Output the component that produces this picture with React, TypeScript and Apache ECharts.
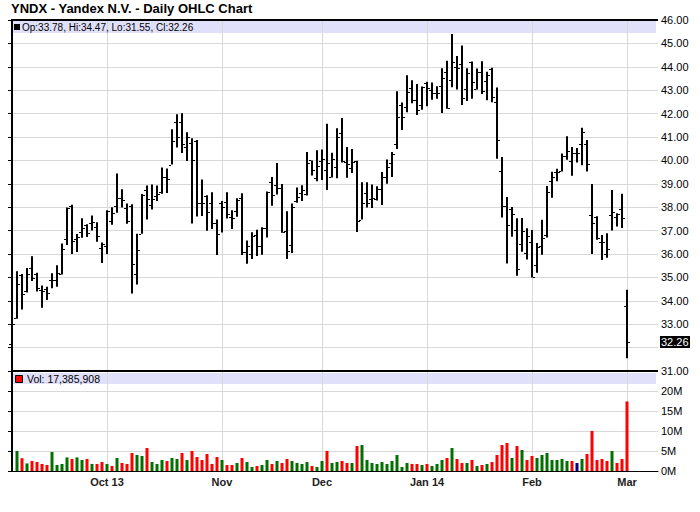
import React, { useEffect, useRef } from "react";
import * as echarts from "echarts";

const opens = [32.17,33.28,35.1,34.4,35.4,35.15,34.45,34.5,34.88,34.87,35.15,36.66,38.05,36.66,36.96,37.25,37.33,37.15,36.25,36.35,37.43,38.04,38.38,37.96,38.04,35.14,36.87,38.73,38.11,38.47,38.63,39.27,39.82,41.65,41.66,40.58,40.76,40.85,38.2,38.5,38.2,37.34,38.2,38.24,37.59,37.83,38.38,36.1,36.02,36.83,36.34,37.1,39.06,38.97,38.8,36.99,36.4,38.27,38.59,38.56,40.0,39.23,39.99,39.59,39.29,39.7,41.17,39.93,39.66,39.97,37.47,38.59,38.37,38.37,38.79,39.3,39.89,40.69,42.36,42.27,43.11,42.56,42.37,43.29,42.99,42.9,43.16,43.77,43.43,44.0,44.14,43.07,44.2,43.03,43.76,43.4,43.89,42.51,39.54,38.04,37.93,37.01,36.41,36.03,36.53,35.51,36.33,36.83,39.1,39.49,39.53,40.2,39.97,40.31,40.7,40.7,37.66,37.6,36.5,35.99,37.66,37.59,37.91,33.78];
const highs = [33.57,35.26,35.15,35.4,35.9,35.2,34.65,34.6,35.18,35.52,36.45,37.99,38.1,36.86,37.53,37.27,37.64,37.36,36.49,37.87,38.0,39.44,38.77,38.16,38.13,36.87,38.56,38.93,38.97,38.93,39.7,39.65,41.33,41.97,42.02,41.2,40.95,40.87,39.18,38.51,38.64,37.47,38.27,38.64,37.87,38.38,38.6,36.58,36.93,37.04,37.14,38.67,39.29,39.89,38.99,37.83,38.16,38.84,38.94,40.36,40.0,40.43,40.47,41.57,40.33,41.37,41.81,40.57,40.49,39.99,39.07,39.07,38.97,38.9,39.5,40.04,40.36,42.96,42.47,43.64,43.43,43.26,43.16,43.36,43.33,43.17,43.94,44.26,45.4,44.46,44.91,43.94,44.23,43.93,44.24,43.79,43.96,43.12,40.14,38.44,38.01,37.53,37.54,37.1,37.03,36.47,37.46,38.91,39.51,39.64,40.3,41.03,40.57,40.53,41.4,40.87,38.99,37.61,36.81,36.89,38.74,37.74,38.57,34.47];
const lows = [31.79,33.23,33.63,34.35,34.85,34.4,33.7,34.03,34.54,34.6,35.12,36.38,36.0,36.09,36.69,36.73,37.0,36.52,35.62,36.0,37.25,37.76,37.99,37.29,34.31,34.7,36.87,37.47,37.9,38.26,38.58,38.61,39.82,40.55,40.32,39.97,37.3,37.6,37.62,36.99,37.07,35.96,36.92,37.52,37.07,37.59,35.96,35.58,35.79,35.91,35.97,36.7,38.06,38.54,36.91,35.79,36.04,38.19,38.27,38.5,39.36,39.11,39.16,38.74,39.27,39.24,39.91,39.26,39.46,36.94,37.47,37.99,37.97,38.29,38.09,39.0,39.29,40.49,41.3,42.06,42.44,41.94,42.16,42.31,42.59,42.63,42.03,42.21,43.13,43.03,42.37,42.54,42.63,43.03,42.84,42.57,42.49,40.07,37.56,35.59,36.74,35.07,36.1,35.77,35.0,35.2,35.97,36.7,38.4,39.11,39.53,40.03,39.34,39.91,39.79,39.53,36.0,36.61,35.74,35.84,37.0,37.17,37.11,31.55];
const closes = [32.99,34.71,34.3,35.15,34.99,34.55,34.4,34.35,34.9,35.2,36.23,37.96,36.57,36.72,37.1,36.9,37.36,36.79,36.42,37.85,37.74,38.4,38.3,37.43,35.56,36.15,38.53,38.33,38.37,38.57,39.31,39.22,40.81,41.02,40.69,40.99,40.0,38.2,38.16,37.79,37.32,36.87,38.01,37.73,37.54,38.3,36.1,36.36,36.78,36.34,37.13,38.67,38.54,38.81,36.96,36.14,37.99,38.44,38.73,39.87,39.61,39.74,40.07,39.87,40.07,40.99,39.97,39.84,39.94,37.43,38.16,38.2,38.41,38.77,39.3,39.7,40.29,41.84,41.87,42.94,42.57,42.17,43.13,43.09,42.9,42.87,43.51,42.23,44.19,43.97,42.66,43.74,43.33,43.76,42.96,43.63,42.69,40.86,38.04,37.23,37.7,35.34,36.97,36.76,35.03,36.3,36.67,38.64,39.29,39.49,40.2,40.4,40.31,40.31,41.21,39.86,37.31,36.67,36.5,36.21,37.81,37.71,37.53,32.26];
// volume in millions (first bar has no visible volume)
const volumes = [null,5.0,3.2,1.9,2.5,2.25,1.75,1.5,4.75,1.5,1.75,3.4,3.0,3.4,2.75,3.0,1.75,1.75,2.25,1.75,1.25,3.25,2.0,1.75,4.5,4.0,3.75,5.75,2.25,1.75,2.75,2.5,3.25,3.0,4.5,2.75,5.0,3.5,2.75,4.25,1.75,3.5,2.75,1.5,1.5,2.0,3.25,2.25,1.0,1.25,1.5,2.75,1.75,2.5,2.0,3.0,2.5,2.0,1.75,2.25,1.25,1.0,2.5,5.0,2.0,2.25,2.5,2.0,2.0,6.25,6.5,2.75,2.0,1.75,2.25,1.75,2.5,4.0,1.0,2.0,1.75,1.75,1.5,1.75,1.25,1.75,2.75,3.25,5.75,3.0,2.0,2.0,2.75,1.25,1.5,1.75,2.25,4.0,6.5,7.0,3.25,6.25,5.25,2.75,3.75,3.25,4.0,4.5,2.75,2.75,3.0,2.5,2.5,2.0,3.0,4.25,10.0,2.75,3.0,2.5,5.0,2.0,3.0,17.39];
// u = up (green), d = down (red), n = unchanged (navy)
const volDirs = [
  "n","u","d","u","d","d","d","d","u","u",
  "u","u","d","u","u","d","u","d","d","u",
  "d","u","d","d","d","u","u","d","u","u",
  "u","d","u","u","d","u","d","d","d","d",
  "d","d","u","d","d","u","d","u","u","d",
  "u","u","d","u","d","d","u","u","u","u",
  "d","u","u","d","u","u","d","d","u","d",
  "u","u","u","u","u","u","u","u","u","u",
  "d","d","u","d","u","u","u","d","u","d",
  "d","u","d","u","d","u","d","d","d","d",
  "u","d","u","d","d","u","u","u","u","u",
  "u","u","d","n","u","d","d","d","d","d",
  "u","d","d","d",
];
const monthIdx = [19, 42, 62, 83, 104, 123];
const monthLabels = ["Oct 13", "Nov", "Dec", "Jan 14", "Feb", "Mar"];
const priceTicks = { min: 31, max: 46, step: 1 };
const volTicks = { min: 0, max: 25, step: 5 };
const title = "YNDX - Yandex N.V. - Daily OHLC Chart";
const lastQuote = "Op:33.78, Hi:34.47, Lo:31.55, Cl:32.26";
const lastVolume = "Vol: 17,385,908";

const FONT = '"Liberation Sans", Arial, sans-serif';
const GRID_L = 11;
const GRID_W = 647;
const P_TOP = 20;
const P_H = 351;
const V_TOP = 371;
const V_H = 100;

export default function App() {
  const ref = useRef<HTMLDivElement>(null);
  useEffect(() => {
    if (!ref.current) return;
    const chart = echarts.init(ref.current, null, { renderer: "svg" });
    const lastClose = closes[closes.length - 1];
    const ohlc = opens.map((o, i) => [i, o, highs[i], lows[i], closes[i]]);
    const vol = volumes.map((v, i) => [i, v, volDirs[i]]);
    const dirColor: Record<string, string> = { u: "#007000", d: "#ff0000", n: "#000080" };
    const xCommon = {
      type: "value" as const,
      min: -0.2,
      max: 129.2,
      splitLine: { show: false },
      axisTick: { show: false },
    };
    chart.setOption({
      animation: false,
      backgroundColor: "#ffffff",
      grid: [
        { left: GRID_L, top: P_TOP, width: GRID_W, height: P_H },
        { left: GRID_L, top: V_TOP, width: GRID_W, height: V_H },
      ],
      xAxis: [
        { ...xCommon, gridIndex: 0, axisLine: { show: false }, axisLabel: { show: false } },
        {
          ...xCommon,
          gridIndex: 1,
          axisLine: { show: true, lineStyle: { color: "#000", width: 1 } },
          axisLabel: {
            show: true,
            customValues: monthIdx,
            formatter: (v: number) => monthLabels[monthIdx.indexOf(Math.round(v))] ?? "",
            fontFamily: FONT,
            fontWeight: "bold",
            fontSize: 11,
            color: "#222",
            margin: 5,
          },
        },
      ],
      yAxis: [
        {
          type: "value",
          gridIndex: 0,
          position: "right",
          min: priceTicks.min,
          max: priceTicks.max,
          interval: priceTicks.step,
          axisLine: { show: true, lineStyle: { color: "#000" } },
          axisTick: { show: true, inside: true, length: 4, lineStyle: { color: "#000" } },
          axisLabel: {
            formatter: (v: number) => (Math.abs(v - lastClose) < 0.5 ? "" : v.toFixed(2)),
            fontFamily: FONT,
            fontSize: 11,
            color: "#000",
            margin: 3,
          },
          splitLine: { show: true, lineStyle: { color: "#d8d8d8" } },
        },
        {
          type: "value",
          gridIndex: 1,
          position: "right",
          min: volTicks.min,
          max: volTicks.max,
          interval: volTicks.step,
          axisLine: { show: true, lineStyle: { color: "#000" } },
          axisTick: { show: true, inside: true, length: 4, lineStyle: { color: "#000" } },
          axisLabel: {
            formatter: (v: number) => (v >= volTicks.max ? "" : v + "M"),
            fontFamily: FONT,
            fontSize: 11,
            color: "#000",
            margin: 3,
          },
          splitLine: { show: true, lineStyle: { color: "#d8d8d8" } },
        },
      ],
      series: [
        {
          type: "custom",
          xAxisIndex: 0,
          yAxisIndex: 0,
          z: 3,
          data: ohlc,
          encode: { x: 0, y: [1, 2, 3, 4] },
          renderItem: (params: any, api: any) => {
            const x = api.value(0);
            const o = api.coord([x, api.value(1)]);
            const h = api.coord([x, api.value(2)]);
            const l = api.coord([x, api.value(3)]);
            const c = api.coord([x, api.value(4)]);
            const px = Math.round(h[0]);
            const oy = Math.round(o[1]) + 0.5;
            const cy = Math.round(c[1]) + 0.5;
            return {
              type: "group",
              children: [
                { type: "line", shape: { x1: px, y1: h[1], x2: px, y2: l[1] }, style: { stroke: "#000", lineWidth: 2 } },
                { type: "line", shape: { x1: px - 3, y1: oy, x2: px - 1, y2: oy }, style: { stroke: "#000", lineWidth: 1 } },
                { type: "line", shape: { x1: px + 1, y1: cy, x2: px + 3, y2: cy }, style: { stroke: "#000", lineWidth: 1 } },
              ],
            };
          },
        },
        {
          type: "custom",
          xAxisIndex: 1,
          yAxisIndex: 1,
          z: 3,
          data: vol,
          encode: { x: 0, y: 1 },
          renderItem: (params: any, api: any) => {
            const v = api.value(1);
            if (v == null || isNaN(v)) return null;
            const x = api.value(0);
            const top = api.coord([x, v]);
            const base = api.coord([x, 0]);
            const d = vol[params.dataIndex][2] as string;
            return {
              type: "rect",
              shape: { x: Math.round(top[0]) - 1.5, y: top[1], width: 3, height: base[1] - top[1] },
              style: { fill: dirColor[d] },
            };
          },
        },
      ],
    });

    const xs = monthIdx.map((i) => chart.convertToPixel({ xAxisIndex: 0 }, i) as number);
    const lastY = chart.convertToPixel({ yAxisIndex: 0 }, lastClose) as number;
    const right = GRID_L + GRID_W;
    const elements: any[] = [
      { type: "rect", z: 0, shape: { x: GRID_L + 1, y: P_TOP + 1, width: GRID_W - 3, height: 12 }, style: { fill: "#e0e0fa" } },
      { type: "rect", z: 0, shape: { x: GRID_L + 1, y: V_TOP + 2, width: GRID_W - 3, height: 11 }, style: { fill: "#e0e0fa" } },
    ];
    xs.forEach((x) => {
      const px = Math.round(x) + 0.5;
      elements.push({ type: "line", z: 1, shape: { x1: px, y1: P_TOP, x2: px, y2: P_TOP + P_H }, style: { stroke: "#d8d8d8", lineWidth: 1 } });
      elements.push({ type: "line", z: 1, shape: { x1: px, y1: V_TOP, x2: px, y2: V_TOP + V_H }, style: { stroke: "#d8d8d8", lineWidth: 1 } });
    });
    elements.push(
      { type: "line", z: 5, shape: { x1: GRID_L + 0.5, y1: P_TOP, x2: GRID_L + 0.5, y2: V_TOP + V_H }, style: { stroke: "#000", lineWidth: 1 } },
      { type: "line", z: 5, shape: { x1: GRID_L, y1: P_TOP, x2: right, y2: P_TOP }, style: { stroke: "#000", lineWidth: 2 } },
      { type: "line", z: 5, shape: { x1: GRID_L, y1: V_TOP, x2: right, y2: V_TOP }, style: { stroke: "#000", lineWidth: 2 } },
      { type: "text", z: 5, x: GRID_L, y: 2, style: { text: title, font: `bold 13px ${FONT}`, fill: "#000" } },
      { type: "rect", z: 5, shape: { x: 14, y: P_TOP + 4, width: 6, height: 6 }, style: { fill: "#000" } },
      { type: "text", z: 5, x: 22, y: P_TOP + 7, style: { text: lastQuote, font: `10px ${FONT}`, fill: "#000", verticalAlign: "middle" } },
      { type: "rect", z: 5, shape: { x: 15.5, y: V_TOP + 4.5, width: 7, height: 7 }, style: { fill: "#ff0000", stroke: "#000", lineWidth: 1 } },
      { type: "text", z: 5, x: 27, y: V_TOP + 8, style: { text: lastVolume, font: `10.5px ${FONT}`, fill: "#000", verticalAlign: "middle" } },
      { type: "rect", z: 6, shape: { x: right + 2, y: Math.round(lastY) - 6, width: 30, height: 12 }, style: { fill: "#000" } },
      { type: "text", z: 7, x: right + 3, y: Math.round(lastY), style: { text: lastClose.toFixed(2), font: `11px ${FONT}`, fill: "#fff", verticalAlign: "middle" } }
    );
    chart.setOption({ graphic: { elements } });
    return () => chart.dispose();
  }, []);
  return <div ref={ref} style={{ position: "fixed", left: 0, top: 0, width: 700, height: 512, background: "#fff" }} />;
}
